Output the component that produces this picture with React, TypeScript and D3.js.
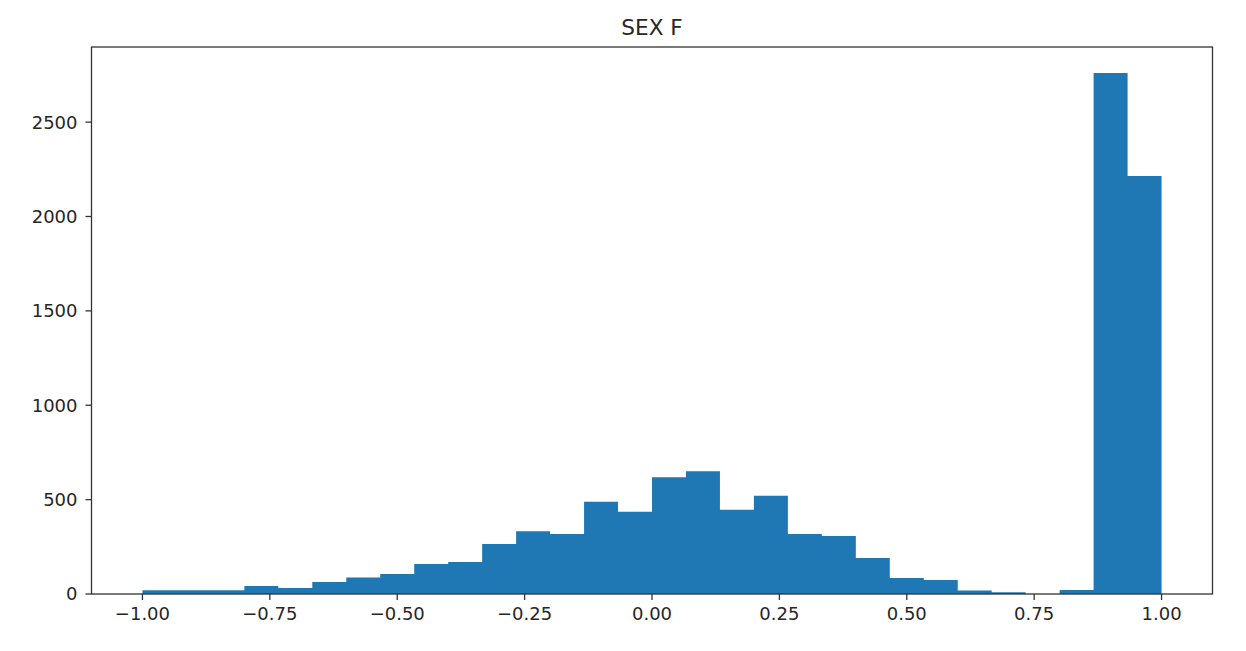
import React from "react";
import * as d3 from "d3";

const title = "SEX F";
const binStart = -1;
const binEnd = 1;
const counts = [
  20, 20, 20, 42, 32, 64, 87, 106, 159, 170,
  265, 332, 318, 489, 436, 618, 650, 447, 521, 318,
  307, 191, 85, 74, 19, 9, 0, 21, 2760, 2215,
];
const xTicks = [-1.0, -0.75, -0.5, -0.25, 0.0, 0.25, 0.5, 0.75, 1.0];
const yTicks = [0, 500, 1000, 1500, 2000, 2500];

const W = 1246;
const H = 651;
const left = 91.5;
const right = 1212.5;
const top = 47;
const bottom = 594;
const font = "'DejaVu Sans', sans-serif";
const textColor = "#262626";

export default function App() {
  const n = counts.length;
  const bw = (binEnd - binStart) / n;
  const pad = (binEnd - binStart) * 0.05;
  const x = d3.scaleLinear().domain([binStart - pad, binEnd + pad]).range([left, right]);
  const yMax = (d3.max(counts) as number) * 1.05;
  const y = d3.scaleLinear().domain([0, yMax]).range([bottom, top]);
  const minus = (s: string) => s.replace("-", "\u2212");

  // step-shaped outline of the histogram, one path (no seams)
  const stepData: [number, number][] = counts.map((c, i) => [binStart + i * bw, c]);
  stepData.push([binEnd, counts[n - 1]]);
  const area = d3
    .area<[number, number]>()
    .x((d) => x(d[0]))
    .y0(y(0))
    .y1((d) => y(d[1]))
    .curve(d3.curveStepAfter);
  const pathD = area(stepData) || "";

  return (
    <svg width={W} height={H} style={{ position: "absolute", left: 0, top: 0, background: "#fff" }}>
      <rect x={0} y={0} width={W} height={H} fill="#fff" />
      <path d={pathD} fill="#1f77b4" />
      <rect x={left} y={top} width={right - left} height={bottom - top} fill="none" stroke="#333" strokeWidth={1.3} />
      {xTicks.map((t) => (
        <g key={"x" + t}>
          <line x1={x(t)} x2={x(t)} y1={bottom} y2={bottom + 6} stroke="#333" strokeWidth={1.3} />
          <text x={x(t)} y={bottom + 12} dy="0.76em" textAnchor="middle" fontFamily={font} fontSize={18} fill={textColor}>
            {minus(d3.format(".2f")(t))}
          </text>
        </g>
      ))}
      {yTicks.map((t) => (
        <g key={"y" + t}>
          <line x1={left - 6} x2={left} y1={y(t)} y2={y(t)} stroke="#333" strokeWidth={1.3} />
          <text x={left - 14} y={y(t)} dy="0.36em" textAnchor="end" fontFamily={font} fontSize={18} fill={textColor}>
            {t}
          </text>
        </g>
      ))}
      <text x={(left + right) / 2} y={35} textAnchor="middle" fontFamily={font} fontSize={21.6} fill={textColor}>
        {title}
      </text>
    </svg>
  );
}
